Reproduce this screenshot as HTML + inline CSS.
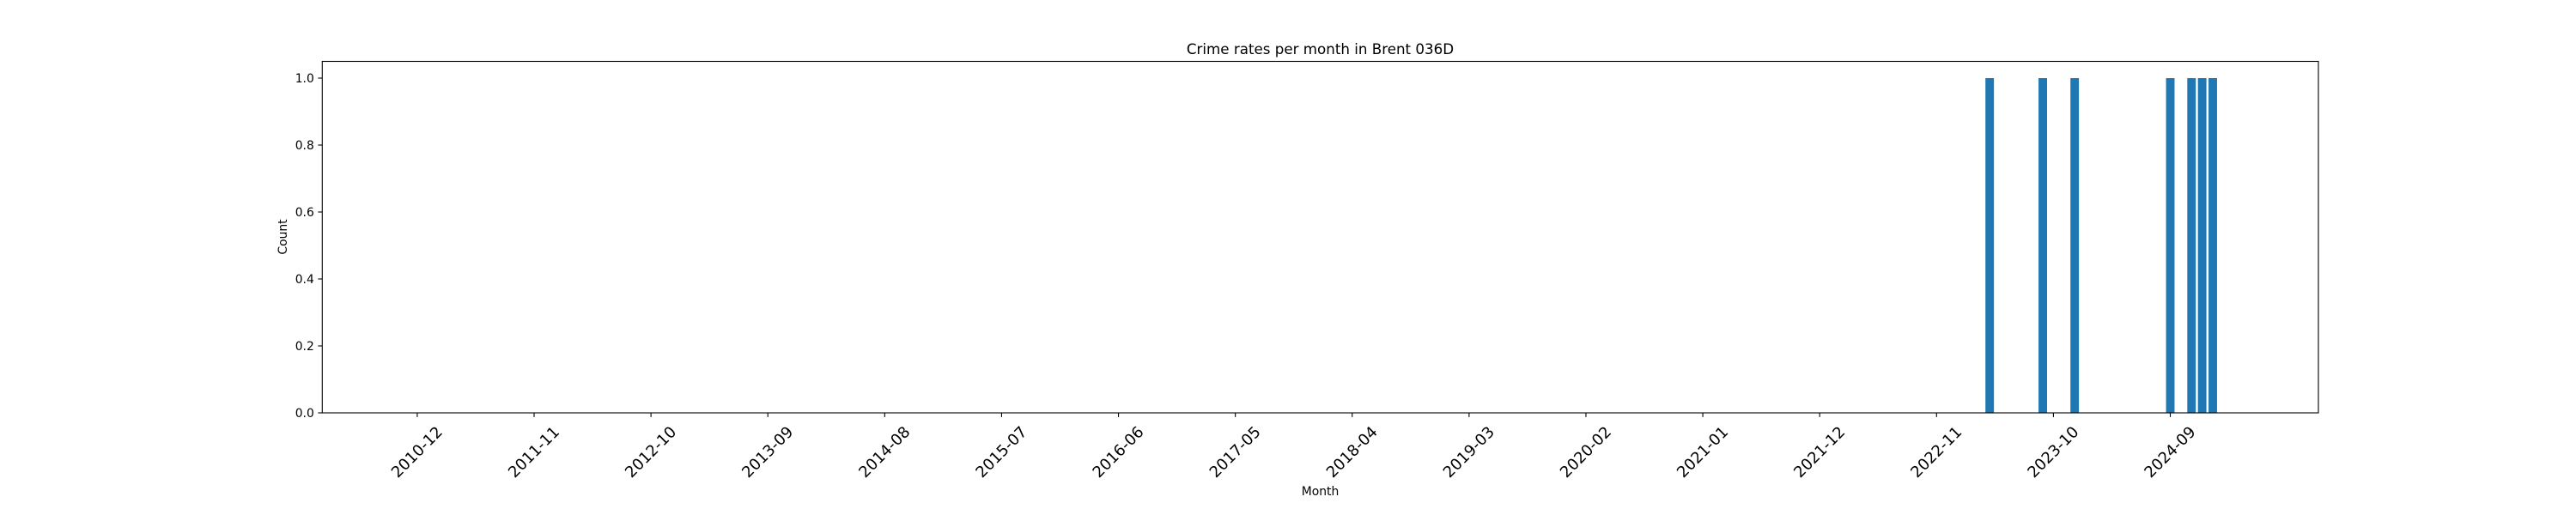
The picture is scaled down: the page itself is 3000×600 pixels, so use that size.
<!DOCTYPE html>
<html><head><meta charset="utf-8"><title>Crime rates per month in Brent 036D</title>
<style>html,body{margin:0;padding:0;background:#fff}svg{display:block}text{font-family:"DejaVu Sans","Liberation Sans",sans-serif;fill:#000}</style>
</head><body>
<svg id="chart" width="3000" height="600" viewBox="0 0 3000 600" xmlns="http://www.w3.org/2000/svg">
<rect x="0" y="0" width="3000" height="600" fill="#fff"/>
<text x="1537.5" y="63" font-size="16.7" text-anchor="middle">Crime rates per month in Brent 036D</text>
<text x="1537.5" y="577" font-size="13.9" text-anchor="middle">Month</text>
<text transform="translate(334,276) rotate(-90)" font-size="13.9" text-anchor="middle">Count</text>
<g id="bars"></g>
<g id="axes"></g>
</svg>
<script>
// Data: month index counted from 2010-12 (index 0); 171 months through 2025-02
const startYear = 2010, startMonth = 12;
const monthCount = 171;
const barMonths = ["2023-04","2023-09","2023-12","2024-09","2024-11","2024-12","2025-01"];
const barValues = [1,1,1,1,1,1,1];
const xTickLabels = ["2010-12","2011-11","2012-10","2013-09","2014-08","2015-07","2016-06","2017-05","2018-04","2019-03","2020-02","2021-01","2021-12","2022-11","2023-10","2024-09"];
const yTickValues = [0,0.2,0.4,0.6,0.8,1.0];

const NS = "http://www.w3.org/2000/svg";
const L = 375.3, R = 2700, B = 481, T = 71.5;
const xMin = -0.4 - 0.05 * (monthCount - 1 + 0.8), xMax = monthCount - 1 + 0.4 + 0.05 * (monthCount - 1 + 0.8);
const yMax = 1.05;
function monthIndex(s){ const [y,m] = s.split("-").map(Number); return (y - startYear) * 12 + (m - startMonth); }
function xPos(i){ return L + (i - xMin) / (xMax - xMin) * (R - L); }
function yPos(v){ return B - v / yMax * (B - T); }
function mk(tag, attrs, parent){ const e = document.createElementNS(NS, tag); for (const k in attrs) e.setAttribute(k, attrs[k]); parent.appendChild(e); return e; }

const bars = document.getElementById("bars");
const unit = (R - L) / (xMax - xMin);
barMonths.forEach((m, k) => {
  const i = monthIndex(m);
  const r = mk("rect", {x: xPos(i) - 0.4 * unit, y: yPos(barValues[k]), width: 0.8 * unit, height: B - yPos(barValues[k]), fill: "#1f77b4"}, bars);
  
  
});

const axes = document.getElementById("axes");
const frame = mk("rect", {x: L, y: T, width: R - L, height: B - T, fill: "none", stroke: "#000", "stroke-width": 1.1}, axes);



yTickValues.forEach(v => {
  const y = yPos(v);
  const t = mk("line", {x1: L - 4.9, x2: L, y1: y, y2: y, stroke: "#000", "stroke-width": 1.1}, axes);
  
  
  const lb = mk("text", {x: L - 9.5, y: y + 5, "font-size": 13.9, "text-anchor": "end"}, axes);
  lb.textContent = v.toFixed(1);
  
  
});

xTickLabels.forEach(s => {
  const x = xPos(monthIndex(s));
  const t = mk("line", {x1: x, x2: x, y1: B, y2: B + 4.9, stroke: "#000", "stroke-width": 1.1}, axes);
  
  
  const lb = mk("text", {transform: "translate(" + x + ",527) rotate(-45)", "font-size": 18, "text-anchor": "middle", "dominant-baseline": "central"}, axes);
  lb.textContent = s;
  
  
});
</script>
</body></html>
